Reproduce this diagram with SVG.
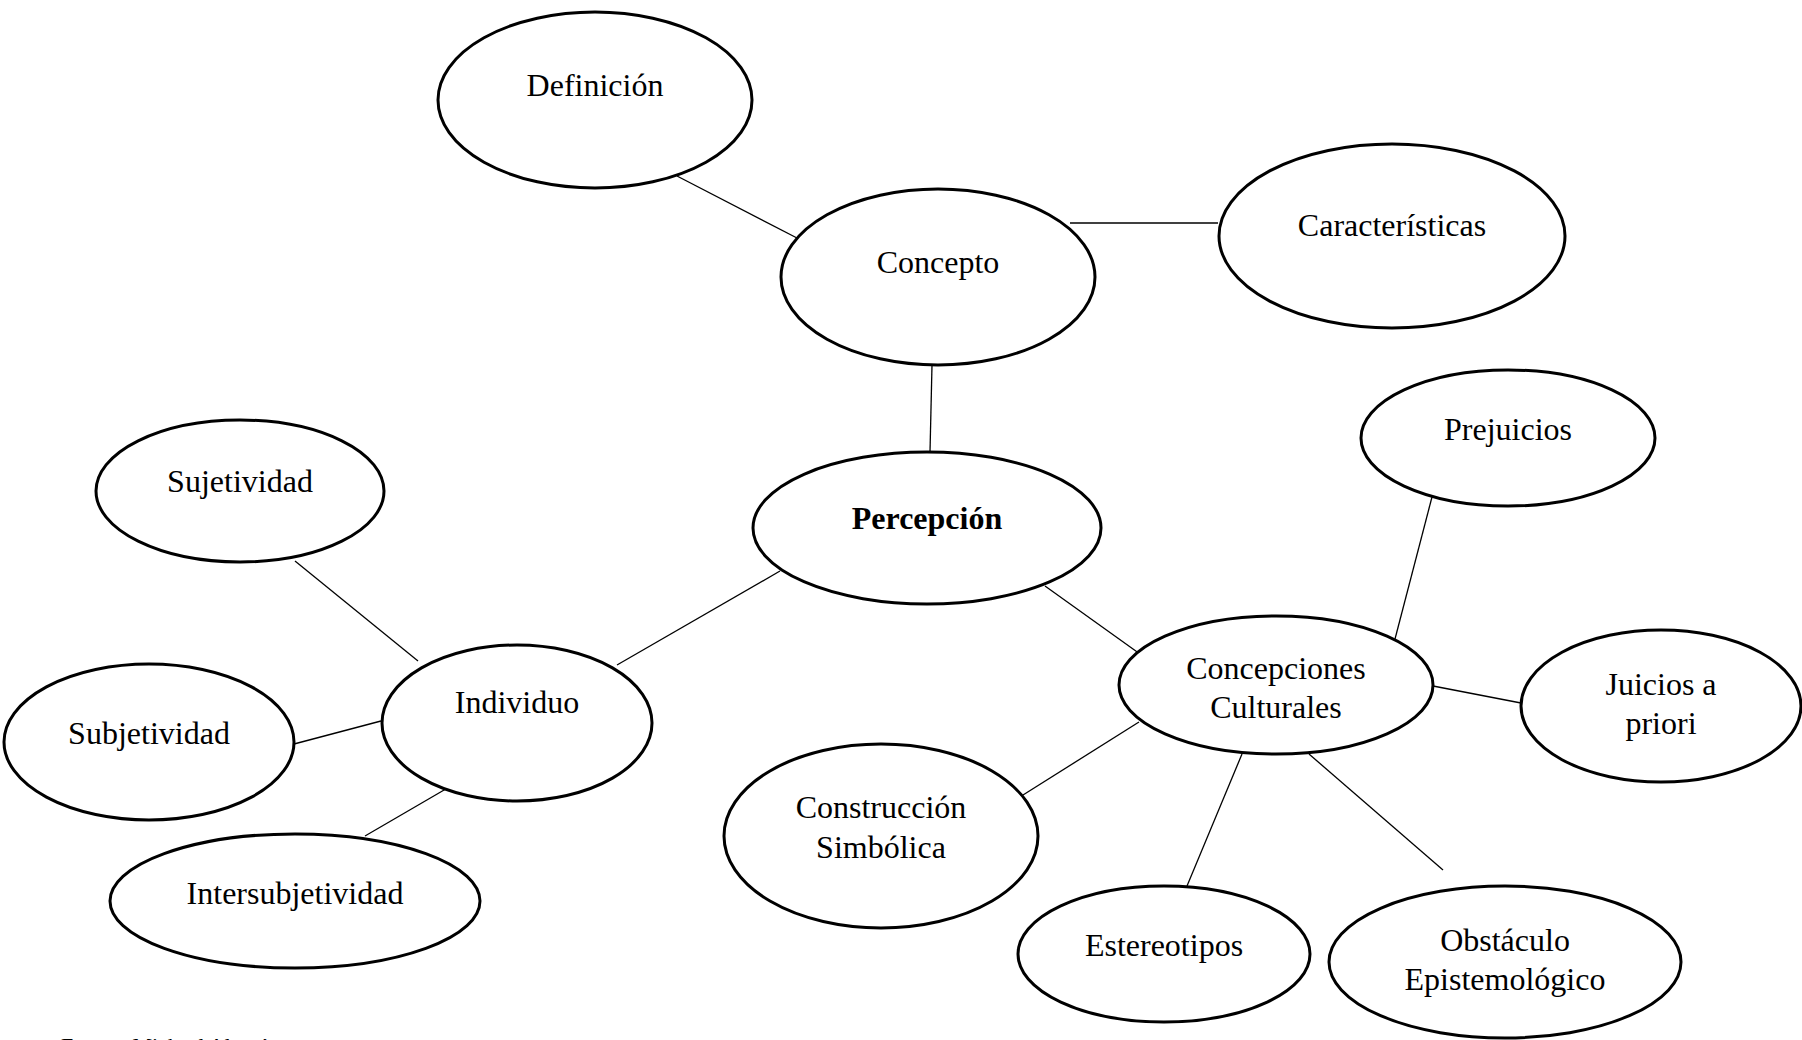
<svg xmlns="http://www.w3.org/2000/svg" width="1802" height="1040" viewBox="0 0 1802 1040">
<style>
.n ellipse{fill:#fff;stroke:#000;stroke-width:3}
.n text{font-family:"Liberation Serif","Times New Roman",serif;font-size:32px;fill:#000;text-anchor:middle}
.b{font-weight:bold}
#connectors line{stroke:#000;stroke-width:1.3}
.foot{font-family:"Liberation Serif","Times New Roman",serif;font-size:22px;fill:#000}
</style>
<rect width="1802" height="1040" fill="#fff"/>
<g id="connectors">
<line x1="677" y1="176" x2="797" y2="238"/>
<line x1="1070" y1="223" x2="1218" y2="223"/>
<line x1="932" y1="365" x2="930" y2="452"/>
<line x1="780" y1="571" x2="617" y2="665"/>
<line x1="295" y1="561" x2="418" y2="661"/>
<line x1="294" y1="744" x2="381" y2="721"/>
<line x1="463" y1="779" x2="365" y2="836"/>
<line x1="1045" y1="586" x2="1140" y2="654"/>
<line x1="1432" y1="497" x2="1395" y2="639"/>
<line x1="1433" y1="686" x2="1521" y2="703"/>
<line x1="1139" y1="722" x2="1023" y2="795"/>
<line x1="1242" y1="754" x2="1187" y2="886"/>
<line x1="1309" y1="754" x2="1443" y2="870"/>
</g>
<g id="definicion" class="n"><ellipse cx="595" cy="100" rx="157" ry="88"/><text x="595" y="96">Definición</text></g>
<g id="concepto" class="n"><ellipse cx="938" cy="277" rx="157" ry="88"/><text x="938" y="273">Concepto</text></g>
<g id="caracteristicas" class="n"><ellipse cx="1392" cy="236" rx="173" ry="92"/><text x="1392" y="236">Características</text></g>
<g id="percepcion" class="n"><ellipse cx="927" cy="528" rx="174" ry="76"/><text class="b" x="927" y="529">Percepción</text></g>
<g id="prejuicios" class="n"><ellipse cx="1508" cy="438" rx="147" ry="68"/><text x="1508" y="440">Prejuicios</text></g>
<g id="sujetividad" class="n"><ellipse cx="240" cy="491" rx="144" ry="71"/><text x="240" y="492">Sujetividad</text></g>
<g id="individuo" class="n"><ellipse cx="517" cy="723" rx="135" ry="78"/><text x="517" y="713">Individuo</text></g>
<g id="subjetividad" class="n"><ellipse cx="149" cy="742" rx="145" ry="78"/><text x="149" y="744">Subjetividad</text></g>
<g id="intersubjetividad" class="n"><ellipse cx="295" cy="901" rx="185" ry="67"/><text x="295" y="904">Intersubjetividad</text></g>
<g id="concepciones" class="n"><ellipse cx="1276" cy="685" rx="157" ry="69"/><text x="1276" y="679">Concepciones</text><text x="1276" y="718">Culturales</text></g>
<g id="juicios" class="n"><ellipse cx="1661" cy="706" rx="140" ry="76"/><text x="1661" y="695">Juicios a</text><text x="1661" y="734">priori</text></g>
<g id="construccion" class="n"><ellipse cx="881" cy="836" rx="157" ry="92"/><text x="881" y="818">Construcción</text><text x="881" y="858">Simbólica</text></g>
<g id="estereotipos" class="n"><ellipse cx="1164" cy="954" rx="146" ry="68"/><text x="1164" y="956">Estereotipos</text></g>
<g id="obstaculo" class="n"><ellipse cx="1505" cy="962" rx="176" ry="76"/><text x="1505" y="951">Obstáculo</text><text x="1505" y="990">Epistemológico</text></g>
<text class="foot" x="61" y="1053">Fuente: Michael Alarcón</text>
</svg>
